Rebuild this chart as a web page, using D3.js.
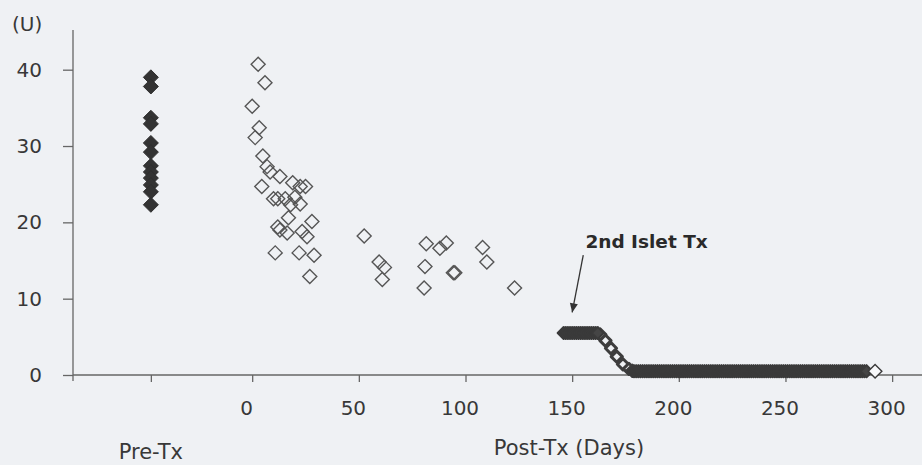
<!DOCTYPE html>
<html>
<head>
<meta charset="utf-8">
<script src="https://cdn.jsdelivr.net/npm/d3@7"></script>
<style>
  body { margin: 0; background: #eff1f4; }
  svg { display: block; }
</style>
</head>
<body>
<svg id="chart"></svg>
<script>
// pre-transplant measurements (all drawn on the "Pre-Tx" position)
const preTxValues = [39.0, 37.8, 33.7, 32.9, 30.4, 29.2, 27.4, 26.6, 25.8, 24.9, 24.0, 22.3];

// after 1st islet Tx (open diamonds)
const firstDays = [2.8, 6, 0, 3.3, 1.4, 5, 7, 8.4, 13, 19, 22.5, 25, 4.5, 10, 12, 15.5, 20, 22.5, 18, 17,
                   28, 12, 13, 16.4, 23.4, 25.7, 10.8, 22, 29, 27,
                   52.5, 59.5, 62, 61, 81.6, 88, 91, 81, 80.6, 94.3, 95, 108, 110, 123];
const firstValues = [40.7, 38.3, 35.2, 32.4, 31.1, 28.7, 27.3, 26.6, 26.0, 25.2, 24.7, 24.7, 24.7, 23.1, 23.1, 23.1, 23.3, 22.4, 22.3, 20.6,
                     20.1, 19.4, 19.0, 18.6, 18.8, 18.1, 16.0, 16.0, 15.7, 12.9,
                     18.2, 14.8, 14.1, 12.5, 17.2, 16.6, 17.3, 14.2, 11.4, 13.4, 13.4, 16.7, 14.8, 11.4];

// after 2nd islet Tx, daily values (dense band)
const secondDays = [146, 147, 148, 149, 150, 151, 152, 153, 154, 155, 156, 157, 158, 159, 160, 161, 162,
                    179, 180, 181, 182, 183, 184, 185, 186, 187, 188, 189, 190, 191, 192, 193, 194, 195, 196, 197, 198,
                    199, 200, 201, 202, 203, 204, 205, 206, 207, 208, 209, 210, 211, 212, 213, 214, 215, 216, 217, 218,
                    219, 220, 221, 222, 223, 224, 225, 226, 227, 228, 229, 230, 231, 232, 233, 234, 235, 236, 237, 238,
                    239, 240, 241, 242, 243, 244, 245, 246, 247, 248, 249, 250, 251, 252, 253, 254, 255, 256, 257, 258,
                    259, 260, 261, 262, 263, 264, 265, 266, 267, 268, 269, 270, 271, 272, 273, 274, 275, 276, 277, 278,
                    279, 280, 281, 282, 283, 284, 285, 286, 287, 288];
const secondValues = [5.5, 5.5, 5.5, 5.5, 5.5, 5.5, 5.5, 5.5, 5.5, 5.5, 5.5, 5.5, 5.5, 5.5, 5.5, 5.5, 5.5,
                      0.5, 0.5, 0.5, 0.5, 0.5, 0.5, 0.5, 0.5, 0.5, 0.5, 0.5, 0.5, 0.5, 0.5, 0.5, 0.5, 0.5, 0.5, 0.5, 0.5,
                      0.5, 0.5, 0.5, 0.5, 0.5, 0.5, 0.5, 0.5, 0.5, 0.5, 0.5, 0.5, 0.5, 0.5, 0.5, 0.5, 0.5, 0.5, 0.5, 0.5,
                      0.5, 0.5, 0.5, 0.5, 0.5, 0.5, 0.5, 0.5, 0.5, 0.5, 0.5, 0.5, 0.5, 0.5, 0.5, 0.5, 0.5, 0.5, 0.5, 0.5,
                      0.5, 0.5, 0.5, 0.5, 0.5, 0.5, 0.5, 0.5, 0.5, 0.5, 0.5, 0.5, 0.5, 0.5, 0.5, 0.5, 0.5, 0.5, 0.5, 0.5,
                      0.5, 0.5, 0.5, 0.5, 0.5, 0.5, 0.5, 0.5, 0.5, 0.5, 0.5, 0.5, 0.5, 0.5, 0.5, 0.5, 0.5, 0.5, 0.5, 0.5,
                      0.5, 0.5, 0.5, 0.5, 0.5, 0.5, 0.5, 0.5, 0.5, 0.5];
// the drop between the two plateaus, and the last day
const dropDays = [163.2, 165.6, 168.2, 170.9, 173.8, 176.6, 178.2];
const dropValues = [5.3, 4.5, 3.5, 2.4, 1.4, 0.8, 0.55];
const lastDay = [292];
const lastValue = [0.5];

const xTicks = [0, 50, 100, 150, 200, 250, 300];
const yTicks = [0, 10, 20, 30, 40];
const preTxPos = -47.5;

class DiamondChart {

    constructor( config ) {
        this.config = {
            parent: config.parent,
            width: config.width || 922,
            height: config.height || 465
        }
        this.init();
    }

    init() {
        let self = this;

        self.svg = d3.select( self.config.parent )
            .attr('width', self.config.width)
            .attr('height', self.config.height);

        self.svg.append('rect')
            .attr('width', self.config.width)
            .attr('height', self.config.height)
            .attr('fill', '#eff1f4');

        self.xscale = d3.scaleLinear()
            .domain([-84, 314])
            .range([73, 922]);

        self.yscale = d3.scaleLinear()
            .domain([0, 45.2])
            .range([375, 30]);

        self.diamond = (r) => `M0,${-r}L${r},0L0,${r}L${-r},0Z`;
    }

    render() {
        let self = this;
        const font = "'DejaVu Sans', sans-serif";
        const ink = '#383838';
        const axisColor = '#666';

        // x axis
        const xaxis = d3.axisBottom( self.xscale )
            .tickValues([preTxPos].concat(xTicks))
            .tickFormat(d => d === preTxPos ? '' : d)
            .tickSize(7)
            .tickPadding(19)
            .tickSizeOuter(0);

        const xg = self.svg.append('g')
            .attr('transform', `translate(0, ${self.yscale(0)})`)
            .call( xaxis );
        xg.select('.domain').remove();
        xg.selectAll('line').attr('stroke', axisColor).attr('stroke-width', 1.3);
        xg.selectAll('text')
            .attr('x', -6)
            .attr('fill', ink)
            .style('font-family', font)
            .style('font-size', '20px');
        xg.append('line')
            .attr('x1', self.xscale.range()[0])
            .attr('x2', self.xscale.range()[1])
            .attr('stroke', axisColor)
            .attr('stroke-width', 1.3);

        // y axis
        const yaxis = d3.axisLeft( self.yscale )
            .tickValues(yTicks)
            .tickSize(10)
            .tickPadding(21)
            .tickSizeOuter(0);

        const yg = self.svg.append('g')
            .attr('transform', `translate(${self.xscale.range()[0]}, 0)`)
            .call( yaxis );
        yg.select('.domain').remove();
        yg.selectAll('line').attr('stroke', axisColor).attr('stroke-width', 1.3);
        yg.selectAll('text')
            .attr('fill', ink)
            .style('font-family', font)
            .style('font-size', '20px');
        yg.append('line')
            .attr('y1', self.yscale.range()[1])
            .attr('y2', self.yscale(0) + 6)
            .attr('stroke', axisColor)
            .attr('stroke-width', 1.3);

        // titles
        self.svg.append('text')
            .attr('x', 12).attr('y', 31)
            .attr('fill', ink)
            .style('font-family', font).style('font-size', '20px')
            .text('(U)');
        self.svg.append('text')
            .attr('x', self.xscale(preTxPos)).attr('y', 459)
            .attr('text-anchor', 'middle')
            .attr('fill', ink)
            .style('font-family', font).style('font-size', '21px')
            .text('Pre-Tx');
        self.svg.append('text')
            .attr('x', 569).attr('y', 455)
            .attr('text-anchor', 'middle')
            .attr('fill', ink)
            .style('font-family', font).style('font-size', '21px')
            .text('Post-Tx (Days)');

        // pre-Tx filled diamonds
        self.svg.append('g').selectAll('path')
            .data(preTxValues)
            .join('path')
            .attr('transform', d => `translate(${self.xscale(preTxPos)},${self.yscale(d)})`)
            .attr('d', self.diamond(7.5))
            .attr('fill', '#333')
            .attr('stroke', '#2e2e2e')
            .attr('stroke-width', 1);

        // 1st Tx open diamonds
        self.svg.append('g').selectAll('path')
            .data(firstDays.map((d, i) => [d, firstValues[i]]))
            .join('path')
            .attr('transform', d => `translate(${self.xscale(d[0])},${self.yscale(d[1])})`)
            .attr('d', self.diamond(7))
            .attr('fill', 'none')
            .attr('stroke', '#555')
            .attr('stroke-width', 1.4);

        // 2nd Tx: drop points (open, heavy outline) under the dense band
        self.svg.append('g').selectAll('path')
            .data(dropDays.map((d, i) => [d, dropValues[i]]))
            .join('path')
            .attr('transform', d => `translate(${self.xscale(d[0])},${self.yscale(d[1])})`)
            .attr('d', self.diamond(5.6))
            .attr('fill', '#eef0f3')
            .attr('stroke', '#3d3d3d')
            .attr('stroke-width', 3)
            .attr('stroke-linejoin', 'round');

        self.svg.append('g').selectAll('path')
            .data(secondDays.map((d, i) => [d, secondValues[i]]))
            .join('path')
            .attr('transform', d => `translate(${self.xscale(d[0])},${self.yscale(d[1])})`)
            .attr('d', self.diamond(6))
            .attr('fill', '#454545')
            .attr('stroke', '#3a3a3a')
            .attr('stroke-width', 2)
            .attr('stroke-linejoin', 'round');

        self.svg.append('g').selectAll('path')
            .data(lastDay.map((d, i) => [d, lastValue[i]]))
            .join('path')
            .attr('transform', d => `translate(${self.xscale(d[0])},${self.yscale(d[1])})`)
            .attr('d', self.diamond(6.8))
            .attr('fill', '#f7f8fa')
            .attr('stroke', '#3a3a3a')
            .attr('stroke-width', 1.4);

        // annotation
        self.svg.append('defs').append('marker')
            .attr('id', 'arrow')
            .attr('viewBox', '0 0 10 10')
            .attr('refX', 10).attr('refY', 5)
            .attr('markerWidth', 11).attr('markerHeight', 9)
            .attr('markerUnits', 'userSpaceOnUse')
            .attr('orient', 'auto')
            .append('path')
            .attr('d', 'M0,0.5L10,5L0,9.5Z')
            .attr('fill', '#333');

        self.svg.append('line')
            .attr('x1', self.xscale(155.2)).attr('y1', self.yscale(15.7))
            .attr('x2', self.xscale(150)).attr('y2', self.yscale(8.2))
            .attr('stroke', '#333')
            .attr('stroke-width', 1.3)
            .attr('marker-end', 'url(#arrow)');

        self.svg.append('text')
            .attr('x', self.xscale(156.2)).attr('y', self.yscale(16.7))
            .attr('fill', '#2a2a2a')
            .style('font-family', font)
            .style('font-size', '18.5px')
            .style('font-weight', 'bold')
            .text('2nd Islet Tx');
    }
}

let chart = new DiamondChart({ parent: '#chart', width: 922, height: 465 });
chart.render();
</script>
</body>
</html>
